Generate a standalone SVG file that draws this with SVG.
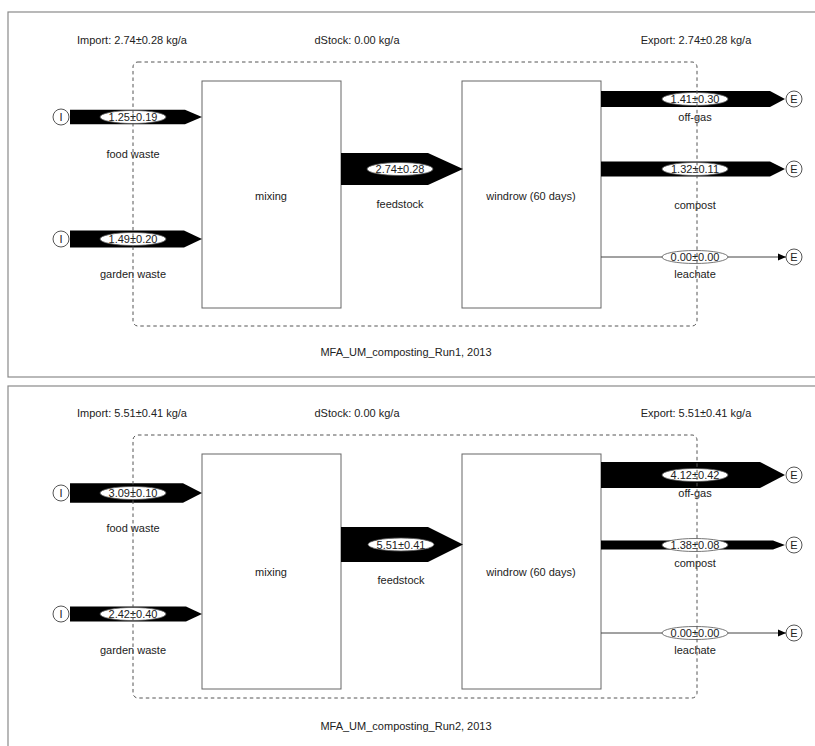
<svg xmlns="http://www.w3.org/2000/svg" width="815" height="746" viewBox="0 0 815 746">
<style>
text{font-family:"Liberation Sans",Arial,sans-serif;font-size:11px;fill:#222;}
.m{text-anchor:middle;}
.panel{fill:#fff;stroke:#8a8a8a;stroke-width:1.2;}
.sys{fill:none;stroke:#555;stroke-width:1;stroke-dasharray:3.5,3;}
.proc{fill:#fff;stroke:#666;stroke-width:1;}
.flow{fill:#000;stroke:none;}
.lbl{fill:#fff;stroke:#555;stroke-width:0.8;}
.term{fill:#fff;stroke:#555;stroke-width:1;}
.thin{stroke:#444;stroke-width:1;fill:none;}
</style>
<defs>
<marker id="ah" markerWidth="8" markerHeight="8" refX="8" refY="4" orient="auto" markerUnits="userSpaceOnUse">
<path d="M0,0.5 L8,4 L0,7.5 Z" fill="#000"/>
</marker>
</defs>
<rect x="0" y="0" width="815" height="746" fill="#fff"/>

<!-- Panel 1 -->
<g id="panel1">
<rect class="panel" x="8" y="12" width="830" height="365"/>
<text class="m" x="132" y="44">Import: 2.74±0.28 kg/a</text>
<text class="m" x="357" y="44">dStock: 0.00 kg/a</text>
<text class="m" x="696" y="44">Export: 2.74±0.28 kg/a</text>
<text class="m" x="406" y="356">MFA_UM_composting_Run1, 2013</text>
</g>
<g id="p1-mixing"><rect class="proc" x="202" y="81" width="139" height="227"/><text class="m" x="271" y="200">mixing</text></g>
<g id="p1-windrow"><rect class="proc" x="462" y="81" width="139" height="227"/><text class="m" x="531" y="200">windrow (60 days)</text></g>
<g id="p1-imp1"><circle class="term" cx="61" cy="117" r="8"/><text class="m" x="61" y="121">I</text></g>
<g id="p1-imp2"><circle class="term" cx="61" cy="239" r="8"/><text class="m" x="61" y="243">I</text></g>
<g id="p1-exp1"><circle class="term" cx="794" cy="99" r="8"/><text class="m" x="794" y="103">E</text></g>
<g id="p1-exp2"><circle class="term" cx="794" cy="169" r="8"/><text class="m" x="794" y="173">E</text></g>
<g id="p1-exp3"><circle class="term" cx="794" cy="257" r="8"/><text class="m" x="794" y="261">E</text></g>
<g id="p1-flows">
<polygon class="flow" points="70,109.8 185,109.8 202,117 185,124.2 70,124.2"/>
<ellipse class="lbl" cx="133" cy="117" rx="33" ry="6.5"/><text class="m" x="133" y="121">1.25±0.19</text>
<text class="m" x="133" y="158">food waste</text>
<polygon class="flow" points="70,230.5 184,230.5 202,239 184,247.5 70,247.5"/>
<ellipse class="lbl" cx="133" cy="239" rx="33" ry="6.5"/><text class="m" x="133" y="243">1.49±0.20</text>
<text class="m" x="133" y="278">garden waste</text>
<polygon class="flow" points="341,153 428,153 463,169 428,185 341,185"/>
<ellipse class="lbl" cx="400" cy="169" rx="33" ry="6.5"/><text class="m" x="400" y="173">2.74±0.28</text>
<text class="m" x="400" y="208">feedstock</text>
<polygon class="flow" points="601,91 770,91 785,99 770,107 601,107"/>
<ellipse class="lbl" cx="695" cy="99" rx="33" ry="6.5"/><text class="m" x="695" y="103">1.41±0.30</text>
<text class="m" x="695" y="121">off-gas</text>
<polygon class="flow" points="601,161.5 770,161.5 785,169 770,176.5 601,176.5"/>
<ellipse class="lbl" cx="695" cy="169" rx="33" ry="6.5"/><text class="m" x="695" y="173">1.32±0.11</text>
<text class="m" x="695" y="209">compost</text>
<line class="thin" x1="601" y1="257" x2="786" y2="257" marker-end="url(#ah)"/>
<ellipse class="lbl" cx="695" cy="257" rx="33" ry="6.5"/><text class="m" x="695" y="261">0.00±0.00</text>
<text class="m" x="695" y="278">leachate</text>
</g>
<g id="p1-system"><rect class="sys" x="133" y="62" width="564" height="264" rx="5"/></g>

<!-- Panel 2 -->
<g id="panel2">
<rect class="panel" x="8" y="386" width="830" height="380"/>
<text class="m" x="132" y="417">Import: 5.51±0.41 kg/a</text>
<text class="m" x="357" y="417">dStock: 0.00 kg/a</text>
<text class="m" x="696" y="417">Export: 5.51±0.41 kg/a</text>
<text class="m" x="406" y="730">MFA_UM_composting_Run2, 2013</text>
</g>
<g id="p2-mixing"><rect class="proc" x="202" y="454" width="139" height="235"/><text class="m" x="271" y="576">mixing</text></g>
<g id="p2-windrow"><rect class="proc" x="462" y="454" width="139" height="235"/><text class="m" x="531" y="576">windrow (60 days)</text></g>
<g id="p2-imp1"><circle class="term" cx="61" cy="493" r="8"/><text class="m" x="61" y="497">I</text></g>
<g id="p2-imp2"><circle class="term" cx="61" cy="614" r="8"/><text class="m" x="61" y="618">I</text></g>
<g id="p2-exp1"><circle class="term" cx="794" cy="475" r="8"/><text class="m" x="794" y="479">E</text></g>
<g id="p2-exp2"><circle class="term" cx="794" cy="545" r="8"/><text class="m" x="794" y="549">E</text></g>
<g id="p2-exp3"><circle class="term" cx="794" cy="633" r="8"/><text class="m" x="794" y="637">E</text></g>
<g id="p2-flows">
<polygon class="flow" points="70,483.2 183,483.2 202,493 183,502.8 70,502.8"/>
<ellipse class="lbl" cx="133" cy="493" rx="33" ry="6.5"/><text class="m" x="133" y="497">3.09±0.10</text>
<text class="m" x="133" y="532">food waste</text>
<polygon class="flow" points="70,606.5 186,606.5 202,614 186,621.5 70,621.5"/>
<ellipse class="lbl" cx="133" cy="614" rx="33" ry="6.5"/><text class="m" x="133" y="618">2.42±0.40</text>
<text class="m" x="133" y="654">garden waste</text>
<polygon class="flow" points="341,527 428,527 463,544.5 428,562 341,562"/>
<ellipse class="lbl" cx="401" cy="544.5" rx="33" ry="6.5"/><text class="m" x="401" y="548.5">5.51±0.41</text>
<text class="m" x="401" y="584">feedstock</text>
<polygon class="flow" points="601,462 760,462 785,475 760,488 601,488"/>
<ellipse class="lbl" cx="695" cy="475" rx="33" ry="6.5"/><text class="m" x="695" y="479">4.12±0.42</text>
<text class="m" x="695" y="497">off-gas</text>
<polygon class="flow" points="601,540.5 773,540.5 785,545 773,549.5 601,549.5"/>
<ellipse class="lbl" cx="695" cy="545" rx="33" ry="6.5"/><text class="m" x="695" y="549">1.38±0.08</text>
<text class="m" x="695" y="567">compost</text>
<line class="thin" x1="601" y1="633" x2="786" y2="633" marker-end="url(#ah)"/>
<ellipse class="lbl" cx="695" cy="633" rx="33" ry="6.5"/><text class="m" x="695" y="637">0.00±0.00</text>
<text class="m" x="695" y="654">leachate</text>
</g>
<g id="p2-system"><rect class="sys" x="133" y="435" width="564" height="263" rx="5"/></g>
</svg>
